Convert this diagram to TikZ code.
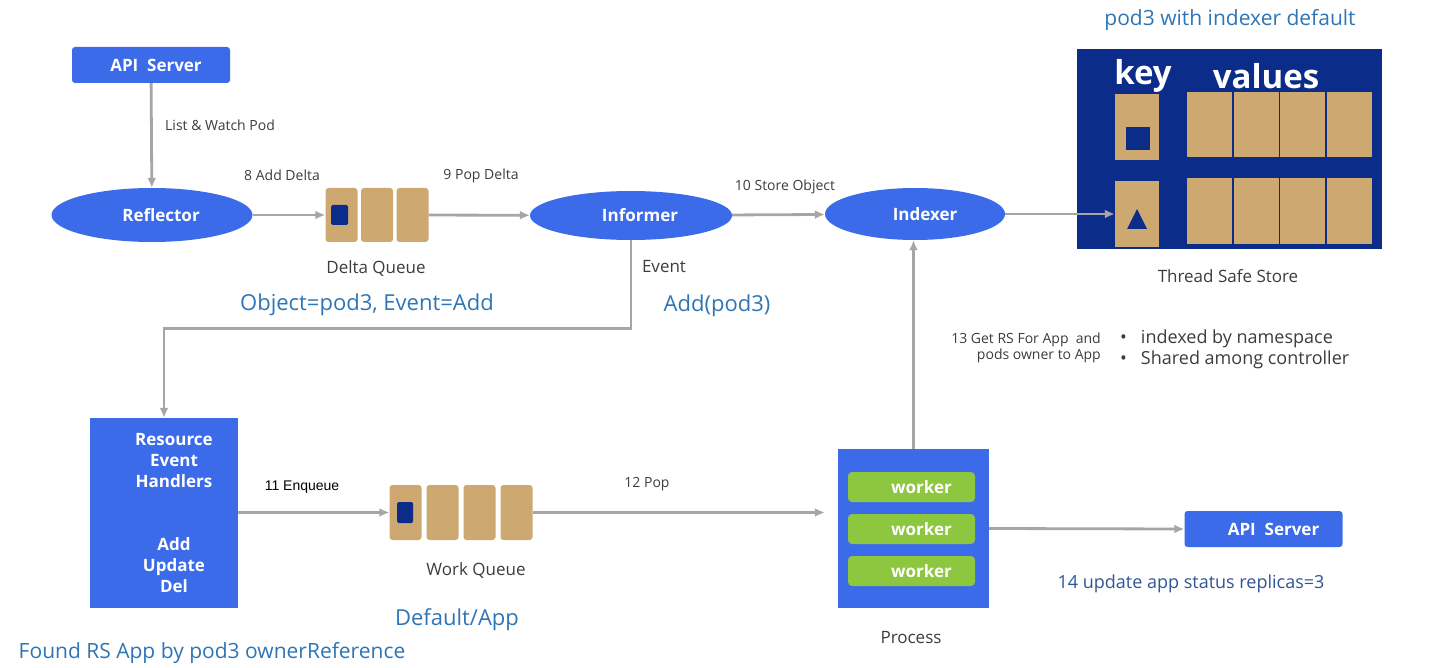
\documentclass[tikz,border=0pt]{standalone}
\usepackage{fontspec}
\setmainfont{Open Sans}
\newfontfamily\arialfont{Liberation Sans}
\usetikzlibrary{shapes.geometric,arrows.meta,positioning}
\definecolor{nodeblue}{RGB}{59,107,232}
\definecolor{boxtan}{RGB}{205,168,112}
\definecolor{storeblue}{RGB}{12,44,138}
\definecolor{workgreen}{RGB}{141,198,63}
\definecolor{noteblue}{RGB}{46,117,182}
\definecolor{darknote}{RGB}{47,85,151}
\definecolor{linegray}{RGB}{166,166,166}
\definecolor{textgray}{RGB}{60,60,60}
\newcommand{\fsz}[1]{\fontsize{#1}{#1}\selectfont}
\tikzset{
	ell/.style={ellipse, fill=nodeblue, text=white, font=\fsz{17}\bfseries, inner sep=0pt},
	apibox/.style={rectangle, rounded corners=3pt, fill=nodeblue, text=white, font=\fsz{17}\bfseries, minimum width=158pt, minimum height=36pt},
	bigbox/.style={rectangle, fill=nodeblue, inner sep=0pt},
	qbox/.style={rectangle, rounded corners=3pt, fill=boxtan, inner sep=0pt},
	obj/.style={rectangle, rounded corners=1.5pt, fill=storeblue, inner sep=0pt},
	worker/.style={rectangle, rounded corners=4pt, fill=workgreen, text=white, font=\fsz{17}\bfseries, minimum width=127pt, minimum height=30pt},
	flow/.style={draw=linegray, line width=2.8pt, ->},
	lbl/.style={text=textgray, font=\fsz{14}, inner sep=0pt},
	note/.style={text=noteblue, font=\fsz{22}, inner sep=0pt}
}
\begin{document}
\begin{tikzpicture}[x=1pt,y=-1pt,>={Latex[length=10pt,width=9pt]}]
	\useasboundingbox (0,0) rectangle (1431,668);
	% top row
	\node[apibox] (api1) at (151,65) {\hspace*{10pt}API\ \ Server};
	\node[ell, minimum width=201pt, minimum height=54pt] (refl) at (152,215) {\hspace*{18pt}Reflector};
	\foreach \i in {1,2,3} {
		\node[qbox, minimum width=32pt, minimum height=54pt] (dq\i) at (341.5+35.5*\i-35.5,215) {};
	}
	\node[obj, minimum width=17pt, minimum height=20pt] (dqobj) at (339.5,215) {};
	\node[ell, minimum width=202pt, minimum height=49pt] (inf) at (631,215.5) {\hspace*{18pt}Informer};
	\node[ell, minimum width=180pt, minimum height=52pt] (idx) at (915,214) {\hspace*{20pt}Indexer};
	% thread safe store
	\node[rectangle, fill=storeblue, minimum width=305pt, minimum height=200pt, inner sep=0pt] (store) at (1229.5,149) {};
	\node[text=white, font=\fsz{33}\bfseries, inner sep=0pt] (keylbl) at (1143,76) {key};
	\node[text=white, font=\fsz{33}\bfseries, inner sep=0pt] (vallbl) at (1266,76) {values};
	\node[qbox, rounded corners=0pt, minimum width=44pt, minimum height=66pt] (key1) at (1137,127) {};
	\node[qbox, rounded corners=0pt, minimum width=44pt, minimum height=66pt] (key2) at (1137,214) {};
	\node[obj, rounded corners=0pt, minimum width=24pt, minimum height=23pt] (keyobj) at (1138,138.5) {};
	\fill[storeblue] (1127,229) -- (1147,229) -- (1137,209) -- cycle;
	\foreach \i in {0,...,3} {
		\fill[boxtan] (1187+46.5*\i,92) rectangle +(45,65);
		\fill[boxtan] (1187+46.5*\i,178) rectangle +(45,66);
	}
	\node[note, font=\fsz{21}] (podidx) at (1230,20) {pod3 with indexer default};
	\node[lbl, font=\fsz{17}] (tss) at (1228,276) {Thread Safe Store};
	% bottom row
	\node[bigbox, minimum width=148pt, minimum height=190pt] (reh) at (164,513) {};
	\node[text=white, font=\fsz{17}\bfseries, align=center, inner sep=0pt] (rehtop) at (174,461) {Resource\\[4pt]Event\\[4pt]Handlers};
	\node[text=white, font=\fsz{17}\bfseries, align=center, inner sep=0pt] (rehbot) at (174,565) {Add\\[4pt]Update\\[4pt]Del};
	\foreach \i in {1,...,4} {
		\node[qbox, minimum width=32pt, minimum height=55pt] (wq\i) at (405.5+37*\i-37,512.5) {};
	}
	\node[obj, minimum width=16pt, minimum height=21pt] (wqobj) at (405,512.5) {};
	\node[bigbox, minimum width=151pt, minimum height=159pt] (proc) at (913.5,528.5) {};
	\foreach \i/\y in {1/487,2/529,3/571} {
		\node[worker] (w\i) at (911.5,\y) {\hspace*{20pt}worker};
	}
	\node[apibox] (api2) at (1263.5,529) {\hspace*{20pt}API\ \ Server};
	% connectors
	\draw[flow] (api1) -- (refl);
	\draw[flow] (refl) -- (dq1);
	\draw[flow] (dq3) -- (inf);
	\draw[flow] (inf) -- (idx);
	\draw[flow] (idx) -- (key2);
	\draw[flow] (inf.south) -- ++(0,88) -| (reh.north);
	\draw[flow] (reh.east |- wq1) -- (wq1);
	\draw[flow, shorten >=13pt] (wq4.east) -- (wq4.east -| proc.west);
	\draw[flow] (proc.north) -- (proc.north |- idx.south);
	\draw[flow] (proc.east) -- (api2.west);
	% labels
	\node[lbl, anchor=west] (lw) at (165,125) {List \& Watch Pod};
	\node[lbl] (addd) at (282,175) {8 Add Delta};
	\node[lbl] (popd) at (481,176) {9 Pop Delta};
	\node[lbl] (stobj) at (785,187) {10 Store Object};
	\node[lbl, font=\fsz{17}] (dqlbl) at (376,268) {Delta Queue};
	\node[note] (objev) at (367,305) {Object=pod3, Event=Add};
	\node[lbl, font=\fsz{17}] (evlbl) at (664,267) {Event};
	\node[note] (addpod) at (717,306) {Add(pod3)};
	\node[lbl, align=right, anchor=east] (getrs) at (1101,348) {13 Get RS For App\ \ and\\[2pt]pods owner to App};
	\node[lbl, font=\fsz{18}, anchor=west] (b1) at (1120,339) {\textbullet\hspace{14pt}indexed by namespace};
	\node[lbl, font=\fsz{18}, anchor=west] (b2) at (1120,360) {\textbullet\hspace{14pt}Shared among controller};
	\node[lbl, text=black, font=\fsz{14}\arialfont] (enq) at (302,487) {11 Enqueue};
	\node[lbl, font=\fsz{17}] (wqlbl) at (476,570) {Work Queue};
	\node[note] (defapp) at (457,620) {Default/App};
	\node[lbl] (pop) at (647,484) {12 Pop};
	\node[lbl, font=\fsz{17}] (proclbl) at (911,638) {Process};
	\node[note, text=darknote, font=\fsz{18}] (upd) at (1191,584) {14 update app status replicas=3};
	\node[note, font=\fsz{21}] (found) at (212,653) {Found RS App by pod3 ownerReference};
\end{tikzpicture}
\end{document}
